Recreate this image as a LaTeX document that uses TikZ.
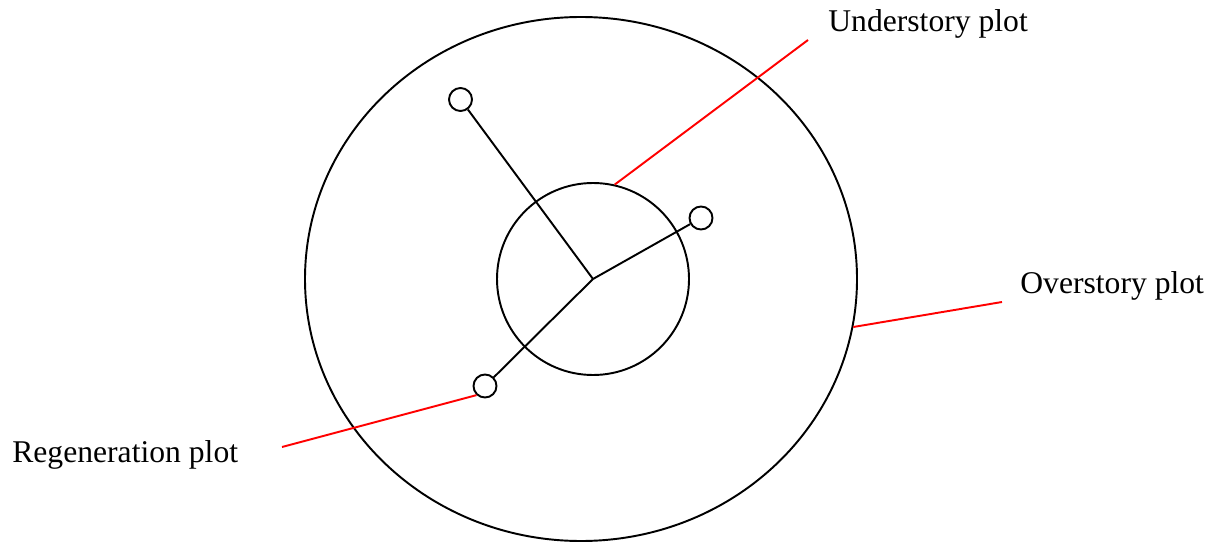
\documentclass[tikz,border=0pt]{standalone}
\usepackage{fontspec}
\setmainfont{Liberation Serif}
\usetikzlibrary{shapes.geometric}

\begin{document}
\begin{tikzpicture}[x=1cm,y=1cm,
  ring/.style={draw, line width=1.1pt},
  stake/.style={draw, circle, line width=1.1pt, inner sep=0pt, minimum size=0.46cm},
  callout/.style={red, line width=1.1pt},
  tag/.style={anchor=base west, inner sep=0pt, font=\fontsize{18}{22}\selectfont}]
\useasboundingbox (0,0) rectangle (24.4,10.82);

\node[ring, ellipse, inner sep=0pt, minimum width=11.04cm, minimum height=10.48cm] (o) at (11.62,5.24) {};
\node[ring, circle, inner sep=0pt, minimum size=3.84cm] (u) at (11.86,5.24) {};

\node[stake] (s1) at (9.21,8.83) {};
\node[stake] (s2) at (14.02,6.46) {};
\node[stake] (s3) at (9.70,3.10) {};

\draw[line width=1.1pt] (u.center) -- (s1);
\draw[line width=1.1pt] (u.center) -- (s2);
\draw[line width=1.1pt] (u.center) -- (s3);

\node[tag] (lu) at (16.56,10.18) {Understory plot};
\node[tag] (lo) at (20.40,4.96) {Overstory plot};
\node[tag] (lr) at (0.24,1.58) {Regeneration plot};

\coordinate (eu) at (16.16,10.02);
\coordinate (eo) at (20.04,4.78);
\coordinate (er) at (5.64,1.88);

\draw[callout] (u.77) -- (eu);
\draw[callout] (o.-10) -- (eo);
\draw[callout] (s3.227) -- (er);
\end{tikzpicture}
\end{document}
